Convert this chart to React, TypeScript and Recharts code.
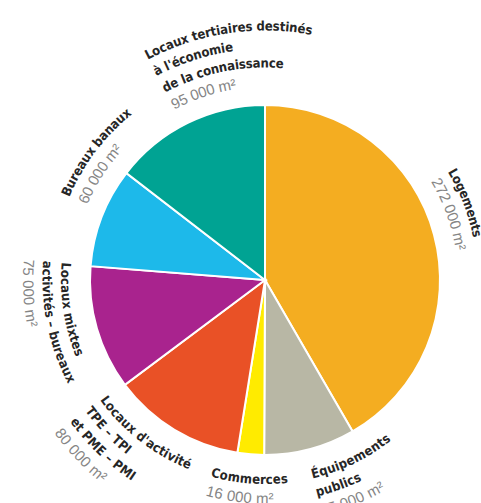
import React from "react";
import { PieChart, Pie, Cell } from "recharts";

// slices, clockwise from 12 o'clock
const categories: string[][] = [
  ["Logements"],
  ["Équipements", "publics"],
  ["Commerces"],
  ["Locaux d'activité", "TPE – TPI", "et PME – PMI"],
  ["Locaux mixtes", "activités – bureaux"],
  ["Bureaux banaux"],
  ["Locaux tertiaires destinés", "à l'économie", "de la connaissance"],
];
const values = [272000, 55000, 16000, 80000, 75000, 60000, 95000];
const colors = ["#F4AD21", "#B8B7A5", "#FFEB00", "#E95126", "#A9238E", "#1DB9EA", "#00A393"];

// where each curved label begins (degrees clockwise from 12 o'clock) and which way it runs
const labelStart = [59.4, 166.5, 195.5, 234, 275, -67, -28];
const labelDir = ["cw", "ccw", "ccw", "ccw", "ccw", "cw", "cw"];

const data = categories.map((lines, i) => ({ name: lines.join(" "), value: values[i] }));

const fmt = (v: number) => `${Math.floor(v / 1000)} ${String(v % 1000).padStart(3, "0")} m²`;

const R_IN = 199;
const STEP = 18.5;
const NAME_FONT = "'DejaVu Sans Condensed', 'Liberation Sans Narrow', 'Liberation Sans', sans-serif";
const VALUE_FONT = "'Liberation Sans', Arial, sans-serif";

function arcPath(cx: number, cy: number, r: number, a0: number, a1: number, cw: boolean) {
  const p = (a: number) => [cx + r * Math.sin((a * Math.PI) / 180), cy - r * Math.cos((a * Math.PI) / 180)];
  const [x0, y0] = p(a0);
  const [x1, y1] = p(a1);
  return `M${x0},${y0} A${r},${r} 0 0 ${cw ? 1 : 0} ${x1},${y1}`;
}

function CurvedLabel(props: any) {
  const { cx, cy, index } = props;
  const cw = labelDir[index] === "cw";
  const rows = [
    ...categories[index].map((t) => ({ t, bold: true })),
    { t: fmt(values[index]), bold: false },
  ];
  const n = rows.length;
  return (
    <g>
      {rows.map((row, j) => {
        const r = cw ? R_IN + (n - 1 - j) * STEP : R_IN + j * STEP;
        const a0 = labelStart[index];
        const a1 = cw ? a0 + 120 : a0 - 120;
        const id = `lbl-${index}-${j}`;
        return (
          <g key={j}>
            <path id={id} d={arcPath(cx, cy, r, a0, a1, cw)} fill="none" stroke="none" />
            <text
              dominantBaseline="central"
              fontFamily={row.bold ? NAME_FONT : VALUE_FONT}
              fontWeight={row.bold ? 700 : 400}
              fontSize={row.bold ? 13 : 15}
              fill={row.bold ? "#262626" : "#858585"}
            >
              <textPath href={`#${id}`}>{row.t}</textPath>
            </text>
          </g>
        );
      })}
    </g>
  );
}

export default function App() {
  return (
    <div style={{ position: "fixed", left: 0, top: 0, background: "#fff" }}>
      <PieChart width={481} height={503}>
        <Pie
          data={data}
          dataKey="value"
          nameKey="name"
          cx={260}
          cy={275}
          outerRadius={175}
          startAngle={90}
          endAngle={-270}
          stroke="#fff"
          strokeWidth={2}
          label={CurvedLabel}
          labelLine={false}
          isAnimationActive={false}
        >
          {data.map((d, i) => (
            <Cell key={d.name} fill={colors[i]} />
          ))}
        </Pie>
      </PieChart>
    </div>
  );
}
